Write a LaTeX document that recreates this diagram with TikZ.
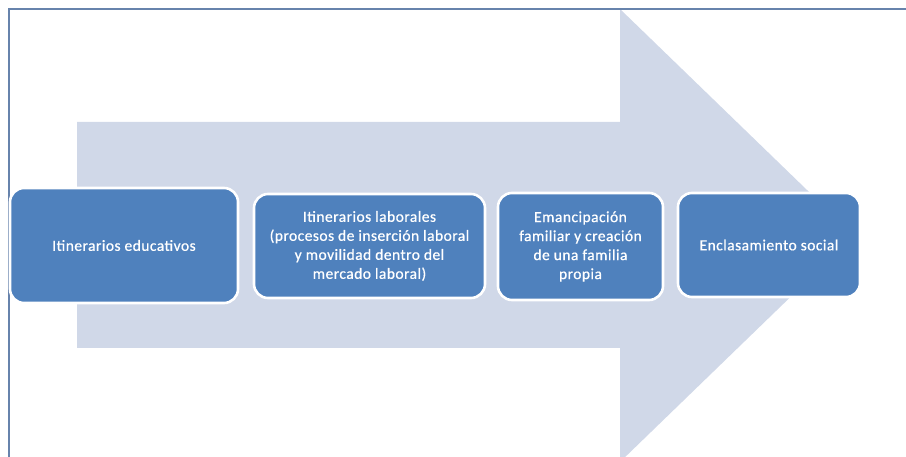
\documentclass[tikz,border=0pt]{standalone}
\usepackage{fontspec}
\setmainfont{Carlito}[LetterSpace=3,FakeBold=0.7]
\definecolor{arrowfill}{HTML}{D0D8E8}
\definecolor{boxfill}{HTML}{4F81BD}
\definecolor{frameline}{HTML}{6783AC}
\begin{document}
\begin{tikzpicture}[x=1pt,y=-1pt,
  stagebox/.style={draw=white, line width=2.6pt, fill=boxfill, rounded corners=14pt,
    text=white, align=center, inner sep=0pt,
    font=\fontsize{15.5}{19}\selectfont},
  bigarrow/.style={fill=arrowfill, draw=none}]
\useasboundingbox (0,0) rectangle (906,457);
% big arrow
\fill[bigarrow] (77,122) -- (620,122) -- (620,9) -- (854,235.5) -- (620,462) -- (620,348) -- (77,348) -- cycle;
% frame
\draw[frameline, line width=1.5pt] (9,457) -- (9,9) -- (906,9);
% boxes
\node[stagebox, minimum width=228pt, minimum height=115pt] (b1) at (124,245.5) {Itinerarios educativos};
\node[stagebox, minimum width=231pt, minimum height=104pt] (b2) at (369.5,246) {Itinerarios laborales\\(procesos de inserción laboral\\y movilidad dentro del\\mercado laboral)};
\node[stagebox, minimum width=165pt, minimum height=107pt] (b3) at (580.5,246.5) {Emancipación\\familiar y creación\\de una familia\\propia};
\node[stagebox, minimum width=182pt, minimum height=104pt] (b4) at (769,245) {Enclasamiento social};
\end{tikzpicture}
\end{document}
